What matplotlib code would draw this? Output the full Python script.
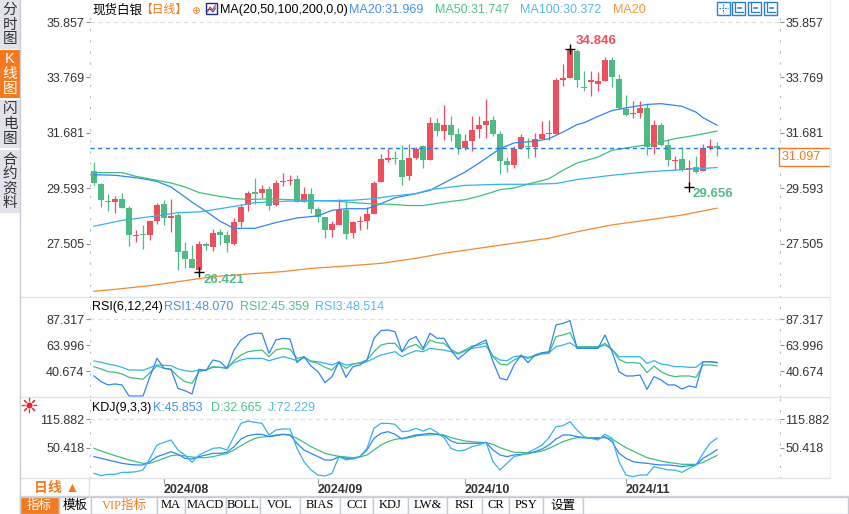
import numpy as np
import pandas as pd
import matplotlib
matplotlib.use('Agg')
import matplotlib.pyplot as plt
from matplotlib.patches import Rectangle

plt.rcParams['font.family'] = ['Liberation Sans', 'Noto Sans CJK SC', 'DejaVu Sans']

W, H = 849, 514

# daily candles, first bar 2024-07-18
opens = [30.230, 29.740, 29.124, 29.074, 29.174, 28.835, 27.792, 27.855, 27.830, 28.345,
         28.986, 28.471, 28.572, 27.215, 26.913, 26.524, 27.478, 27.365, 27.931, 27.818,
         27.478, 28.308, 28.973, 29.438, 29.413, 29.551, 28.961, 29.828, 29.865, 29.928,
         29.074, 29.363, 28.798, 28.496, 28.019, 28.207, 28.760, 27.906, 28.308, 28.345,
         28.622, 29.828, 30.669, 30.720, 30.644, 30.053, 30.732, 31.172, 30.657, 32.064,
         31.749, 31.963, 31.624, 31.109, 31.385, 31.825, 31.963, 32.152, 31.624, 30.606,
         30.468, 31.109, 31.184, 31.159, 31.448, 31.624, 31.636, 33.684, 33.747, 34.765,
         33.408, 33.596, 33.521, 33.646, 34.413, 33.709, 32.591, 32.403, 32.428, 32.604,
         31.134, 31.963, 31.209, 30.619, 30.682, 30.330, 30.380, 30.254, 31.121, 31.172]
highs = [30.581, 29.803, 29.388, 29.287, 29.426, 28.911, 28.031, 28.194, 28.383, 29.036,
         29.137, 29.200, 28.672, 27.566, 27.453, 27.604, 27.566, 28.056, 28.044, 27.993,
         28.471, 28.999, 29.476, 29.966, 29.727, 29.664, 29.903, 30.179, 30.079, 30.079,
         29.652, 29.589, 28.885, 28.521, 28.345, 29.174, 29.099, 28.345, 28.559, 28.885,
         29.853, 30.896, 31.097, 30.984, 31.210, 31.272, 31.134, 31.209, 32.265, 32.252,
         32.717, 32.315, 31.863, 31.636, 32.315, 32.327, 32.943, 32.302, 31.737, 30.770,
         31.172, 31.636, 31.486, 31.674, 32.139, 32.177, 33.747, 34.275, 34.846, 34.827,
         34.000, 34.000, 33.961, 34.526, 34.526, 33.898, 33.094, 32.868, 32.893, 32.755,
         32.164, 32.038, 31.461, 30.795, 31.134, 30.644, 30.807, 31.260, 31.436, 31.335]
lows = [29.727, 28.885, 28.735, 28.659, 28.848, 27.416, 27.566, 27.303, 27.642, 28.232,
        28.220, 27.943, 26.511, 26.587, 26.587, 26.421, 27.252, 27.227, 27.466, 27.190,
        27.441, 28.119, 28.735, 29.011, 29.237, 28.785, 28.911, 29.677, 29.702, 29.074,
        29.074, 28.659, 28.320, 27.717, 27.755, 28.194, 27.667, 27.717, 28.019, 28.056,
        28.609, 29.828, 30.569, 30.506, 29.702, 29.890, 30.707, 30.355, 30.657, 31.549,
        31.398, 31.385, 30.895, 31.033, 31.008, 31.486, 31.486, 31.561, 30.141, 30.204,
        30.355, 31.059, 30.732, 30.757, 31.448, 31.398, 31.636, 33.433, 33.747, 33.408,
        33.244, 33.069, 33.257, 33.621, 33.408, 32.591, 32.302, 32.252, 32.252, 30.857,
        30.883, 31.184, 30.430, 30.267, 30.254, 29.656, 30.167, 30.229, 31.046, 30.807]
closes = [29.777, 29.149, 29.074, 29.174, 28.848, 27.830, 27.843, 27.830, 28.345, 28.948,
          28.471, 28.534, 27.190, 26.926, 26.587, 27.478, 27.428, 27.893, 27.843, 27.529,
          28.308, 28.898, 29.401, 29.375, 29.551, 28.923, 29.777, 29.853, 29.916, 29.074,
          29.363, 28.823, 28.521, 28.019, 28.232, 28.772, 27.868, 28.308, 28.345, 28.609,
          29.803, 30.682, 30.732, 30.682, 30.016, 30.719, 31.084, 30.644, 32.038, 31.737,
          31.963, 31.599, 31.109, 31.385, 31.775, 31.988, 32.126, 31.636, 30.631, 30.468,
          31.071, 31.511, 31.146, 31.448, 31.624, 31.662, 33.672, 33.747, 34.790, 33.672,
          33.383, 33.659, 33.621, 34.413, 33.785, 32.604, 32.340, 32.428, 32.604, 31.146,
          31.963, 31.222, 30.644, 30.669, 30.292, 30.368, 30.204, 31.121, 31.172, 31.097]

# moving averages (bar number, value)
ma20_at = [1, 4, 6, 8, 10, 12, 13, 15, 17, 19, 21, 24, 27, 30, 33, 35, 37, 40, 42, 44,
           47, 49, 51, 54, 56, 59, 61, 64, 66, 68, 70, 71, 73, 75, 77, 80, 82, 85, 87, 88, 90]
ma20 = [30.10, 30.08, 30.02, 29.95, 29.85, 29.64, 29.45, 29.07, 28.72, 28.35, 28.08, 28.08,
        28.30, 28.47, 28.55, 28.76, 28.82, 28.82, 29.01, 29.23, 29.39, 29.51, 29.79, 30.20,
        30.54, 31.08, 31.30, 31.36, 31.46, 31.71, 31.99, 32.06, 32.30, 32.52, 32.62, 32.75,
        32.78, 32.68, 32.46, 32.25, 31.969]
ma50_at = [1, 5, 7, 10, 12, 14, 16, 18, 21, 23, 26, 31, 36, 38, 41, 43, 46, 48, 51, 54,
           56, 58, 59, 61, 63, 66, 68, 70, 73, 75, 78, 81, 84, 87, 90]
ma50 = [30.18, 30.18, 30.04, 29.89, 29.79, 29.64, 29.43, 29.33, 29.20, 29.17, 29.19, 29.14,
        29.10, 29.05, 29.00, 28.99, 28.94, 28.94, 29.06, 29.16, 29.29, 29.45, 29.54, 29.60,
        29.75, 29.95, 30.27, 30.54, 30.77, 31.02, 31.15, 31.27, 31.46, 31.59, 31.747]
ma100_at = [1, 5, 7, 10, 13, 16, 19, 22, 24, 29, 34, 38, 41, 43, 47, 49, 54, 59, 63, 67,
            70, 75, 80, 85, 90]
ma100 = [28.16, 28.38, 28.45, 28.55, 28.67, 28.70, 28.82, 28.95, 29.05, 29.11, 29.12, 29.14,
         29.20, 29.28, 29.39, 29.54, 29.70, 29.74, 29.74, 29.77, 29.92, 30.08, 30.21, 30.29,
         30.372]
ma200_at = [1, 4, 9, 13, 18, 23, 28, 32, 37, 42, 47, 51, 56, 61, 66, 70, 75, 80, 85, 90]
ma200 = [25.71, 25.78, 25.92, 26.07, 26.26, 26.36, 26.45, 26.57, 26.66, 26.76, 26.95, 27.14,
         27.33, 27.52, 27.71, 27.95, 28.21, 28.39, 28.58, 28.84]

rsi1 = [36.2, 31.1, 28.1, 29.0, 28.1, 18.1, 18.1, 18.1, 35.6, 52.1, 43.1, 42.2, 25.0, 22.9, 19.9,
        42.2, 41.0, 50.6, 49.1, 43.1, 59.6, 68.7, 73.2, 74.7, 74.7, 56.6, 68.7, 70.2, 69.6, 48.2,
        53.6, 45.2, 40.1, 30.2, 35.6, 49.1, 35.0, 44.6, 46.1, 50.6, 70.2, 77.1, 77.7, 76.2, 58.1,
        68.7, 71.7, 61.1, 74.7, 70.2, 70.2, 59.6, 51.2, 56.6, 62.0, 65.6, 68.7, 49.1, 34.1, 32.6,
        46.1, 55.1, 48.2, 55.1, 57.2, 58.1, 82.2, 83.7, 86.1, 61.1, 61.1, 61.1, 61.1, 73.2, 58.1,
        40.1, 36.2, 36.2, 37.1, 24.1, 35.6, 32.6, 28.1, 28.1, 24.4, 27.2, 25.9, 49.1, 49.1, 48.07]
rsi2 = [44.6, 42.5, 40.1, 39.5, 38.0, 35.0, 34.1, 33.2, 39.2, 45.2, 43.1, 42.2, 35.6, 31.1, 29.6,
        40.1, 41.6, 44.6, 44.0, 42.8, 50.0, 55.1, 58.1, 59.0, 59.6, 53.6, 59.6, 61.1, 60.2, 52.1,
        53.6, 49.1, 47.6, 44.0, 41.6, 48.2, 43.1, 47.0, 48.2, 50.6, 58.1, 64.1, 65.6, 65.6, 58.1,
        62.6, 64.7, 59.6, 68.7, 66.2, 65.6, 60.2, 56.6, 59.6, 63.2, 64.1, 66.2, 53.6, 47.0, 46.1,
        50.6, 53.6, 52.1, 54.2, 56.0, 56.6, 71.7, 73.2, 75.3, 62.6, 62.6, 62.6, 62.6, 65.6, 60.2,
        51.2, 48.2, 48.2, 47.6, 39.2, 45.2, 40.1, 37.1, 35.6, 36.2, 36.2, 35.0, 46.1, 46.1, 45.359]
rsi3 = [49.7, 48.5, 47.0, 45.8, 44.0, 41.6, 41.6, 41.3, 43.7, 46.1, 45.8, 45.5, 42.5, 41.0, 40.1,
        41.6, 41.6, 44.0, 44.0, 43.7, 48.2, 50.6, 52.1, 52.1, 52.1, 50.0, 51.8, 53.6, 52.1, 50.0,
        52.7, 49.7, 49.1, 47.6, 46.1, 48.8, 46.1, 47.0, 47.6, 49.1, 52.1, 55.1, 56.6, 58.1, 53.6,
        56.6, 59.0, 58.1, 61.1, 60.2, 59.6, 58.1, 56.0, 58.7, 61.1, 62.0, 63.2, 54.2, 50.6, 50.0,
        53.6, 54.5, 53.0, 54.8, 56.6, 57.2, 62.6, 64.1, 66.2, 62.0, 62.0, 62.0, 62.0, 64.1, 60.2,
        53.6, 53.6, 53.6, 53.6, 47.6, 50.0, 47.0, 46.1, 44.6, 44.6, 44.0, 44.0, 49.1, 49.1, 48.514]

k_line = [30.0, 26.2, 22.4, 18.6, 14.8, 12.5, 11.0, 11.0, 18.6, 30.0, 35.3, 41.4, 35.3, 26.2, 24.6,
          30.0, 33.8, 37.6, 37.6, 39.9, 52.8, 70.3, 77.9, 80.9, 80.9, 75.6, 77.9, 80.9, 79.4, 60.4,
          45.2, 37.6, 30.0, 22.4, 22.4, 30.0, 26.2, 24.6, 30.0, 45.2, 71.8, 83.2, 87.0, 80.9, 70.3,
          75.6, 79.4, 80.9, 83.2, 80.9, 77.9, 65.7, 60.4, 60.4, 60.4, 60.4, 62.7, 45.2, 33.8, 30.0,
          33.8, 35.3, 36.8, 41.4, 47.4, 56.6, 70.3, 79.4, 79.4, 75.6, 73.3, 71.8, 71.8, 75.6, 64.2,
          37.6, 26.2, 18.6, 16.3, 14.8, 12.5, 11.0, 11.0, 9.4, 7.2, 9.4, 11.0, 26.2, 35.3, 45.853]
d_line = [49.0, 42.9, 37.6, 32.2, 27.7, 22.4, 18.6, 14.8, 14.8, 20.1, 26.2, 32.2, 33.8, 31.5, 29.2,
          27.7, 27.7, 30.0, 33.8, 36.8, 45.2, 55.1, 64.2, 71.8, 74.8, 76.3, 79.4, 80.9, 79.4, 71.8,
          62.7, 52.8, 45.2, 37.6, 33.8, 30.7, 29.2, 27.7, 29.2, 33.8, 45.2, 56.6, 64.2, 69.5, 71.8,
          73.3, 77.1, 79.4, 79.4, 80.9, 79.4, 73.3, 69.5, 65.7, 64.2, 62.7, 61.9, 58.1, 50.5, 45.2,
          39.9, 39.9, 38.3, 39.9, 42.9, 49.0, 56.6, 64.2, 69.5, 73.3, 73.3, 73.3, 73.3, 73.3, 70.3,
          60.4, 50.5, 42.9, 35.3, 27.7, 23.9, 20.1, 17.0, 14.8, 12.5, 12.5, 12.5, 17.0, 25.0, 32.665]
j_line = [-8.0, -13.4, -10.3, -10.3, -5.8, -5.8, -4.3, -0.4, 26.2, 56.6, 62.7, 68.0, 45.2, 33.8, 17.0,
          33.8, 41.4, 49.0, 50.5, 45.2, 75.6, 106.0, 111.3, 108.3, 106.0, 79.4, 90.8, 93.1, 93.1, 49.0,
          18.6, -0.4, -11.9, -14.1, -8.0, 30.0, 22.4, 26.2, 30.0, 49.0, 94.6, 106.0, 106.0, 103.7, 87.0,
          88.5, 94.6, 88.5, 94.6, 85.5, 73.3, 49.0, 42.9, 45.2, 52.8, 56.6, 62.7, 18.6, -0.4, 14.8,
          30.0, 33.8, 39.9, 47.4, 56.6, 73.3, 98.4, 100.7, 109.8, 90.8, 75.6, 71.8, 68.0, 80.9, 71.8,
          18.6, -11.9, -15.6, -11.9, -11.9, 7.2, 3.4, -0.4, -0.4, -5.8, 3.4, 11.0, 37.6, 60.4, 72.229]

price_ticks = [27.505, 29.593, 31.681, 33.769, 35.857]
rsi_ticks = [40.674, 63.996, 87.317]
kdj_ticks = [50.418, 115.882]

RED = '#ee4f5d'
GREEN = '#4fba84'
C_BLUE = '#2f86f3'
C_GREEN = '#3fbf7e'
C_LBLUE = '#36b2ee'
C_ORANGE = '#f5892e'
ORANGE = '#f47a20'
TXT = '#333333'

n = len(closes)
x = np.arange(1, n + 1)
dates = pd.bdate_range('2024-07-18', periods=n)
o = np.array(opens)
c = np.array(closes)

fig = plt.figure(figsize=(W / 100, H / 100), dpi=100)


def box(x0, y0, x1, y1):
    return [x0 / W, 1 - y1 / H, (x1 - x0) / W, (y1 - y0) / H]


ax = fig.add_axes(box(90, 14, 780, 297))
ax_rsi = fig.add_axes(box(90, 297, 780, 397))
ax_kdj = fig.add_axes(box(90, 397, 780, 478))


def style(a, ticks, ylim):
    a.set_xlim(0.43, 99)
    a.set_ylim(*ylim)
    a.patch.set_alpha(0)
    for s in ['top', 'bottom']:
        a.spines[s].set_visible(False)
    for s in ['left', 'right']:
        a.spines[s].set_color('#b4bac2')
        a.spines[s].set_linestyle((0, (1, 9)))
        a.spines[s].set_linewidth(0.8)
    a.set_yticks(ticks)
    a.set_yticklabels(['%.3f' % t for t in ticks])
    a.tick_params(axis='y', left=True, right=True, labelleft=True, labelright=True,
                  length=3, width=0.8, color='#8a8f96', labelsize=9, labelcolor=TXT, pad=1)
    a.tick_params(axis='x', bottom=False, labelbottom=False)
    a.axhline(ticks[-1], color='#dedede', lw=0.8, ls=(0, (4, 3)), zorder=0)


style(ax, price_ticks, (25.492, 36.159))
style(ax_rsi, rsi_ticks, (17.22, 107.43))
style(ax_kdj, kdj_ticks, (-18.7, 166.07))

# candles
colors = np.where(c >= o, RED, GREEN)
ax.vlines(x, lows, highs, colors=colors, lw=0.9, zorder=2)
ax.bar(x, np.maximum(np.abs(c - o), 0.04), 0.72, bottom=np.minimum(o, c),
       color=colors, lw=0, zorder=3)

ax.plot(ma20_at, ma20, color=C_BLUE, lw=0.9, zorder=4)
ax.plot(ma50_at, ma50, color=C_GREEN, lw=0.9, zorder=4)
ax.plot(ma100_at, ma100, color=C_LBLUE, lw=0.9, zorder=4)
ax.plot(ma200_at, ma200, color=C_ORANGE, lw=0.9, zorder=4)

ax.axhline(closes[-1], color='#1a7cf0', lw=1, ls=(0, (3, 2.5)), zorder=5)
ax.annotate('%.3f  ' % closes[-1], xy=(1, closes[-1]), xycoords=('axes fraction', 'data'),
            xytext=(2, -9), textcoords='offset pixels', ha='left', va='center',
            fontsize=9, color=ORANGE, annotation_clip=False,
            bbox=dict(boxstyle='square,pad=0.25', fc='white', ec=ORANGE, lw=1))

# marked extremes
hi_i = int(np.argmax(highs))
lo_i = int(np.argmin(lows))
rl_i = n - 20 + int(np.argmin(lows[-20:]))
ax.plot(x[[hi_i, lo_i, rl_i]], [highs[hi_i], lows[lo_i], lows[rl_i]], '+', color='k',
        ms=7, mew=1, zorder=6)
ax.annotate('%.3f' % highs[hi_i], xy=(x[hi_i], highs[hi_i]), xytext=(6, 8),
            textcoords='offset pixels', ha='left', va='center', fontsize=9.5,
            color=RED, fontweight='bold', zorder=6)
ax.annotate('%.3f' % lows[lo_i], xy=(x[lo_i], lows[lo_i]), xytext=(5, -8),
            textcoords='offset pixels', ha='left', va='center', fontsize=9.5,
            color='#55b98a', fontweight='bold', zorder=6)
ax.annotate('%.3f' % lows[rl_i], xy=(x[rl_i], lows[rl_i]), xytext=(4, -7),
            textcoords='offset pixels', ha='left', va='center', fontsize=9.5,
            color='#55b98a', fontweight='bold', zorder=6)

ax_rsi.plot(x, rsi3, color=C_LBLUE, lw=0.9)
ax_rsi.plot(x, rsi2, color=C_GREEN, lw=0.9)
ax_rsi.plot(x, rsi1, color=C_BLUE, lw=0.9)

ax_kdj.plot(x, d_line, color=C_GREEN, lw=0.9)
ax_kdj.plot(x, k_line, color=C_BLUE, lw=0.9)
ax_kdj.plot(x, j_line, color=C_LBLUE, lw=0.9)

firsts = [i for i in range(1, n) if dates[i].month != dates[i - 1].month]
ax_kdj.set_xticks(x[firsts])
ax_kdj.set_xticklabels([dates[i].strftime('%Y/%m') for i in firsts], fontweight='bold',
                       fontsize=9, color=TXT, ha='left')
ax_kdj.tick_params(axis='x', bottom=True, labelbottom=True, length=4, width=0.8,
                   color='#9aa0a8', pad=0.5)

# frame, sidebar, headers, toolbar
ov = fig.add_axes([0, 0, 1, 1])
ov.set_xlim(0, W)
ov.set_ylim(H, 0)
ov.axis('off')
ov.set_zorder(5)
ov.patch.set_alpha(0)

LINE = '#dfe4e9'
for yy in (297, 397, 478):
    ov.plot([20, 830], [yy, yy], color=LINE, lw=1)
ov.plot([20, 849], [496, 496], color='#cfd4da', lw=1)
ov.plot([830, 830], [0, 478], color='#eef1f3', lw=1)
ov.plot([20, 20], [0, 514], color='#c8ccd4', lw=1)
ov.plot([89, 89], [478, 496], color=LINE, lw=1)

tabs = [(0, 49, '分时图', False), (50, 98, 'K线图', True),
        (100, 148, '闪电图', False), (150, 213, '合约资料', False)]
for y0, y1, label, active in tabs:
    ov.add_patch(Rectangle((0, y0), 20, y1 - y0, fc=ORANGE if active else '#e1e2ea', ec='none'))
    step = 14.6
    start = (y0 + y1) / 2 - (len(label) - 1) * step / 2
    for k, ch in enumerate(label):
        ov.text(10, start + k * step, ch, ha='center', va='center', fontsize=10.5,
                color='white' if active else TXT)

hdr = [(92, '现货白银', 'black', 9), (140, '【日线】', ORANGE, 8.5),
       (220, 'MA(20,50,100,200,0,0)', 'black', 9), (349, 'MA20:31.969', '#4a90ee', 9),
       (435, 'MA50:31.747', '#52c08c', 9), (520, 'MA100:30.372', '#5cb6ee', 9),
       (613, 'MA20', '#f5963c', 9)]
for xx, s, col, fs in hdr:
    ov.text(xx, 10, s, ha='left', va='center', fontsize=fs, color=col)
ov.text(195, 11, '⊕', ha='center', va='center', fontsize=7.5, color=ORANGE,
        family='DejaVu Sans')
ov.add_patch(Rectangle((206, 3), 11, 11, fc='white', ec='#1c2f7a', lw=1))
ov.plot([207.5, 210, 212.5, 215.5], [12, 7, 10, 5], color='#e03030', lw=0.8)
ov.plot([207.5, 210, 213, 215.5], [10, 9, 12, 8], color='#2050c0', lw=0.8)

for k, x0 in enumerate((717, 732.5, 748, 764)):
    ov.add_patch(Rectangle((x0, 1.5), 13, 13, fc='white', ec='#2a7fd4', lw=1))
    if k == 0:
        ov.plot([x0 + 6.5, x0 + 6.5], [3.5, 12.5], color='#2a7fd4', lw=0.8, ls=(0, (1.5, 1)))
        ov.plot([x0 + 2, x0 + 11], [8, 8], color='#2a7fd4', lw=0.8, ls=(0, (1.5, 1)))
    else:
        ov.plot([x0 + 3, x0 + 3, x0 + 11], [3, 12, 12], color='#2a7fd4', lw=0.9)
        ov.plot([x0 + 6, x0 + 9], [7.5, 7.5], color='#2a7fd4', lw=1.2)

rsi_hdr = [(92, 'RSI(6,12,24)', 'black'), (164, 'RSI1:48.070', '#4a90ee'),
           (240, 'RSI2:45.359', '#52c08c'), (315, 'RSI3:48.514', '#5cb6ee')]
for xx, s, col in rsi_hdr:
    ov.text(xx, 307, s, ha='left', va='center', fontsize=9, color=col)
kdj_hdr = [(92, 'KDJ(9,3,3)', 'black'), (153, 'K:45.853', '#4a90ee'),
           (211, 'D:32.665', '#52c08c'), (268, 'J:72.229', '#5cb6ee')]
for xx, s, col in kdj_hdr:
    ov.text(xx, 408, s, ha='left', va='center', fontsize=9, color=col)
ov.plot(29, 405, marker=(8, 2, 0), ms=11, color='#e8242a', mew=0.8)
ov.plot(29, 405, 'o', ms=5, color='#e8242a', mec='white', mew=0.6)

ov.text(34, 488, '日线 ▲', ha='left', va='center', fontsize=10, color=ORANGE, fontweight='bold')

cells = [(20, 59, '指标'), (59, 91, '模板'), (91, 157, 'VIP指标'), (157, 185, 'MA'),
         (185, 226, 'MACD'), (226, 260, 'BOLL'), (260, 300, 'VOL'), (300, 340, 'BIAS'),
         (340, 373, 'CCI'), (373, 408, 'KDJ'), (408, 447, 'LW&'), (447, 482, 'RSI'),
         (482, 509, 'CR'), (509, 543, 'PSY'), (543, 583, '设置'), (583, 848, '')]
for x0, x1, s in cells:
    first = s == '指标'
    ov.add_patch(Rectangle((x0, 497), x1 - x0, 16.5, fc=ORANGE if first else 'white',
                           ec='#c5cad3', lw=1))
    col = 'white' if first else (ORANGE if s.startswith('VIP') else 'black')
    ov.text((x0 + x1) / 2, 505.5, s, ha='center', va='center', fontsize=9, color=col,
            family=['Liberation Serif', 'Noto Sans CJK SC'])

fig.savefig('out.png', dpi=100)
